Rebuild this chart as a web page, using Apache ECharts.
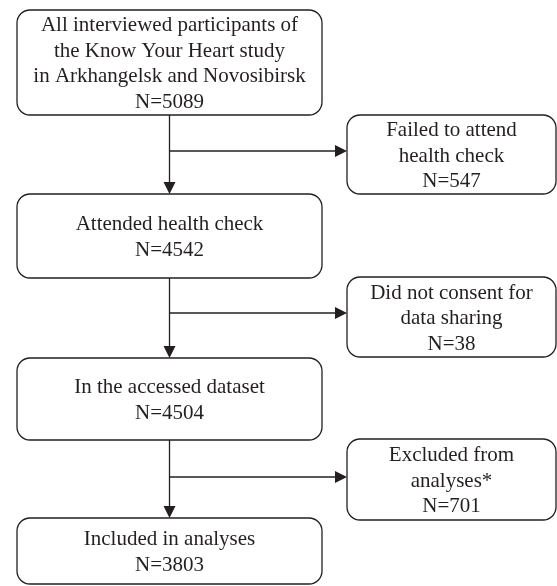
<!DOCTYPE html>
<html>
<head>
<meta charset="utf-8">
<script src="https://cdn.jsdelivr.net/npm/echarts@6/dist/echarts.min.js"></script>
<style>
  html, body { margin: 0; padding: 0; background: #fff; }
  #chart { width: 557px; height: 586px; }
</style>
</head>
<body>
<div id="chart"></div>
<script>
// flow steps (main column)
const mainLabels = [
  'All interviewed participants of\nthe Know Your Heart study\nin Arkhangelsk and Novosibirsk',
  'Attended health check',
  'In the accessed dataset',
  'Included in analyses'
];
const mainCounts = [5089, 4542, 4504, 3803];

// drop-outs (side column)
const sideLabels = [
  'Failed to attend\nhealth check',
  'Did not consent for\ndata sharing',
  'Excluded from\nanalyses*'
];
const sideCounts = [547, 38, 701];

// layout, in pixel units of the hidden axes
const mainX = [17, 322];
const sideX = [347, 556];
const mainY = [[10, 115], [194, 278], [358, 440], [518, 584]];
const sideY = [[115, 194], [277, 357], [439, 520]];
const branchY = [151, 313, 477];
const stemX = 169.5;

const INK = '#231f20';
const FONT = "21px 'Liberation Serif', 'DejaVu Serif', serif";
const LINE_H = 25.5;
const ARROW = 12;

function boxItem(labels, counts) {
  return function (params, api) {
    const p0 = api.coord([api.value(0), api.value(1)]);
    const p1 = api.coord([api.value(2), api.value(3)]);
    const i = params.dataIndex;
    return {
      type: 'group',
      children: [
        {
          type: 'rect',
          shape: { x: p0[0], y: p0[1], width: p1[0] - p0[0], height: p1[1] - p0[1], r: 13 },
          style: { fill: '#fff', stroke: INK, lineWidth: 1.3 }
        },
        {
          type: 'text',
          style: {
            text: labels[i] + '\nN=' + counts[i],
            x: (p0[0] + p1[0]) / 2,
            y: (p0[1] + p1[1]) / 2 + 1.5,
            align: 'center',
            verticalAlign: 'middle',
            font: FONT,
            lineHeight: LINE_H,
            fill: INK
          }
        }
      ]
    };
  };
}

function arrowHead(tip, dir) {
  // dir: 'down' or 'right'
  const h = ARROW / 2;
  const pts = dir === 'down'
    ? [[tip[0] - h, tip[1] - ARROW], [tip[0] + h, tip[1] - ARROW], [tip[0], tip[1]]]
    : [[tip[0] - ARROW, tip[1] - h], [tip[0] - ARROW, tip[1] + h], [tip[0], tip[1]]];
  return { type: 'polygon', shape: { points: pts }, style: { fill: INK } };
}

function connectorItem(params, api) {
  const top = api.coord([api.value(0), api.value(1)]);
  const tip = api.coord([api.value(0), api.value(2)]);
  const b0 = api.coord([api.value(0), api.value(3)]);
  const b1 = api.coord([api.value(4), api.value(3)]);
  return {
    type: 'group',
    children: [
      {
        type: 'line',
        shape: { x1: top[0], y1: top[1], x2: tip[0], y2: tip[1] - ARROW + 1 },
        style: { stroke: INK, lineWidth: 1.3 }
      },
      arrowHead(tip, 'down'),
      {
        type: 'line',
        shape: { x1: b0[0], y1: b0[1], x2: b1[0] - ARROW + 1, y2: b1[1] },
        style: { stroke: INK, lineWidth: 1.3 }
      },
      arrowHead(b1, 'right')
    ]
  };
}

const mainData = mainY.map(y => [mainX[0], y[0], mainX[1], y[1]]);
const sideData = sideY.map(y => [sideX[0], y[0], sideX[1], y[1]]);
const linkData = branchY.map((by, i) => [stemX, mainY[i][1], mainY[i + 1][0], by, sideX[0]]);

const chart = echarts.init(document.getElementById('chart'));
chart.setOption({
  animation: false,
  grid: { left: 0, right: 0, top: 0, bottom: 0 },
  xAxis: { type: 'value', min: 0, max: 557, show: false },
  yAxis: { type: 'value', min: 0, max: 586, inverse: true, show: false },
  series: [
    { type: 'custom', renderItem: connectorItem, data: linkData, silent: true },
    { type: 'custom', renderItem: boxItem(mainLabels, mainCounts), data: mainData, silent: true },
    { type: 'custom', renderItem: boxItem(sideLabels, sideCounts), data: sideData, silent: true }
  ]
});
</script>
</body>
</html>
